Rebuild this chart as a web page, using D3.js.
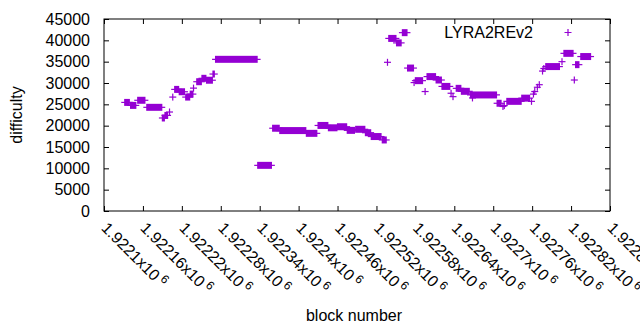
<!DOCTYPE html>
<html>
<head>
<meta charset="utf-8">
<script src="https://cdn.jsdelivr.net/npm/d3@7"></script>
<style>
  html, body { margin: 0; padding: 0; background: #fff; }
  svg text { font-family: "Liberation Sans", Arial, sans-serif; font-size: 16px; fill: #000; }
</style>
</head>
<body>
<svg id="chart" width="640" height="330"></svg>
<script>
// ---- data ----
// runs of consecutive blocks sharing one difficulty value (start == end for single blocks)
const blockFrom = [1922132,1922141,1922152,1922166,1922190,1922194,1922201,1922206,1922209,1922216,
  1922226,1922233,1922238,1922243,1922251,1922258,1922268,1922272,1922337,1922360,
  1922371,1922412,1922430,1922446,1922460,1922475,1922488,1922503,1922512,1922529,
  1922537,1922539,1922551,1922560,1922568,1922578,1922580,1922595,1922598,1922612,
  1922621,1922635,1922638,1922643,1922651,1922665,1922668,1922706,1922715,1922717,
  1922721,1922744,1922759,1922762,1922764,1922768,1922771,1922776,1922778,1922781,
  1922806,1922809,1922825,1922827,1922835];
const blockTo = [1922139,1922149,1922163,1922189,1922193,1922198,1922201,1922206,1922215,1922224,
  1922232,1922237,1922238,1922250,1922257,1922267,1922270,1922336,1922358,1922370,
  1922411,1922428,1922445,1922459,1922474,1922486,1922502,1922511,1922527,1922535,
  1922537,1922550,1922558,1922567,1922577,1922578,1922591,1922595,1922611,1922620,
  1922633,1922635,1922638,1922650,1922663,1922705,1922668,1922712,1922715,1922717,
  1922743,1922756,1922759,1922762,1922764,1922768,1922771,1922776,1922778,1922802,
  1922806,1922823,1922825,1922832,1922850];
const difficulty = [25450,24750,25950,24300,21800,22400,23200,26700,28500,27950,
  26700,27400,28800,30300,31100,30650,32100,35550,10700,19400,
  18850,18200,20050,19500,19750,18900,19150,18350,17450,16650,
  34850,40450,39400,41800,33500,30100,30550,28000,31500,30700,
  29200,27600,26800,28750,28050,27200,26500,25250,24500,24700,
  25700,26450,25700,27400,28000,29000,29600,32800,33400,33850,
  35000,36950,30700,34300,36200];

const xTicks = [1922100,1922160,1922220,1922280,1922340,1922400,1922460,1922520,1922580,1922640,1922700,1922760,1922820,1922880];
const xTickLabels = ["1.9221","1.92216","1.92222","1.92228","1.92234","1.9224","1.92246","1.92252","1.92258","1.92264","1.9227","1.92276","1.92282","1.92288"];
const yTicks = [0,5000,10000,15000,20000,25000,30000,35000,40000,45000];
const seriesName = "LYRA2REv2";

// ---- layout ----
const L = 104, R = 610, T = 19, B = 211;
const color = "#9400d3";
const ps = 3.5; // half size of the "+" point

const svg = d3.select("#chart");
const x = d3.scaleLinear().domain([1922100, 1922880]).range([L, R]);
const y = d3.scaleLinear().domain([0, 45000]).range([B, T]);

const runs = blockFrom.map((s, i) => ({s, e: blockTo[i], v: difficulty[i]}));

// points (+ markers); consecutive blocks overlap into solid bands
const pts = svg.append("g");
pts.selectAll("path.h").data(runs).join("path")
  .attr("class", "h")
  .attr("d", d => `M${x(d.s) - ps},${y(d.v)}H${x(d.e) + ps}`)
  .attr("stroke", color).attr("stroke-width", 1.2).attr("fill", "none");
pts.selectAll("rect.v").data(runs).join("rect")
  .attr("class", "v")
  .attr("x", d => x(d.s) - 0.6)
  .attr("width", d => x(d.e) - x(d.s) + 1.2)
  .attr("y", d => y(d.v) - ps)
  .attr("height", 2 * ps)
  .attr("fill", color);

// axes (ticks inward, mirrored)
const yAxis = svg.append("g").attr("transform", `translate(${L},0)`)
  .call(d3.axisLeft(y).tickValues(yTicks).tickSize(-5).tickPadding(14).tickFormat(d3.format("d")));
svg.append("g").attr("transform", `translate(${R},0)`)
  .call(d3.axisRight(y).tickValues(yTicks).tickSize(-5).tickFormat(""));
const xAxis = svg.append("g").attr("transform", `translate(0,${B})`)
  .call(d3.axisBottom(x).tickValues(xTicks).tickSize(-5).tickFormat(""));
svg.append("g").attr("transform", `translate(0,${T})`)
  .call(d3.axisTop(x).tickValues(xTicks).tickSize(-5).tickFormat(""));

svg.selectAll(".domain").remove();
svg.selectAll(".tick line").attr("stroke", "#000").attr("stroke-width", 1);
yAxis.selectAll("text").style("font-size", "16px").style("font-family", '"Liberation Sans", Arial, sans-serif').attr("fill", "#000");

// rotated x tick labels
xAxis.selectAll(".tick").each(function(d, i) {
  const t = d3.select(this).append("text")
    .attr("transform", "translate(0,14) rotate(45)")
    .attr("text-anchor", "start")
    .attr("dy", "0.35em")
    .attr("fill", "#000")
    .style("font-size", "16px");
  t.append("tspan").text(xTickLabels[i] + "x10");
  t.append("tspan").attr("dx", 3).attr("dy", -6).style("font-size", "12px").text("6");
});

// border
svg.append("rect").attr("x", L).attr("y", T).attr("width", R - L).attr("height", B - T)
  .attr("fill", "none").attr("stroke", "#000").attr("stroke-width", 1);

// axis titles
svg.append("text").attr("x", (L + R) / 2 - 3).attr("y", 321).attr("text-anchor", "middle").text("block number");
svg.append("text").attr("transform", `translate(22,${(T + B) / 2}) rotate(-90)`).attr("text-anchor", "middle").text("difficulty");

// legend
svg.append("text").attr("x", 533).attr("y", 37.5).attr("text-anchor", "end").text(seriesName);
const lx = 568, ly = 32.5;
svg.append("path").attr("d", `M${lx - ps},${ly}H${lx + ps}M${lx},${ly - ps}V${ly + ps}`)
  .attr("stroke", color).attr("stroke-width", 1.2);
</script>
</body>
</html>
